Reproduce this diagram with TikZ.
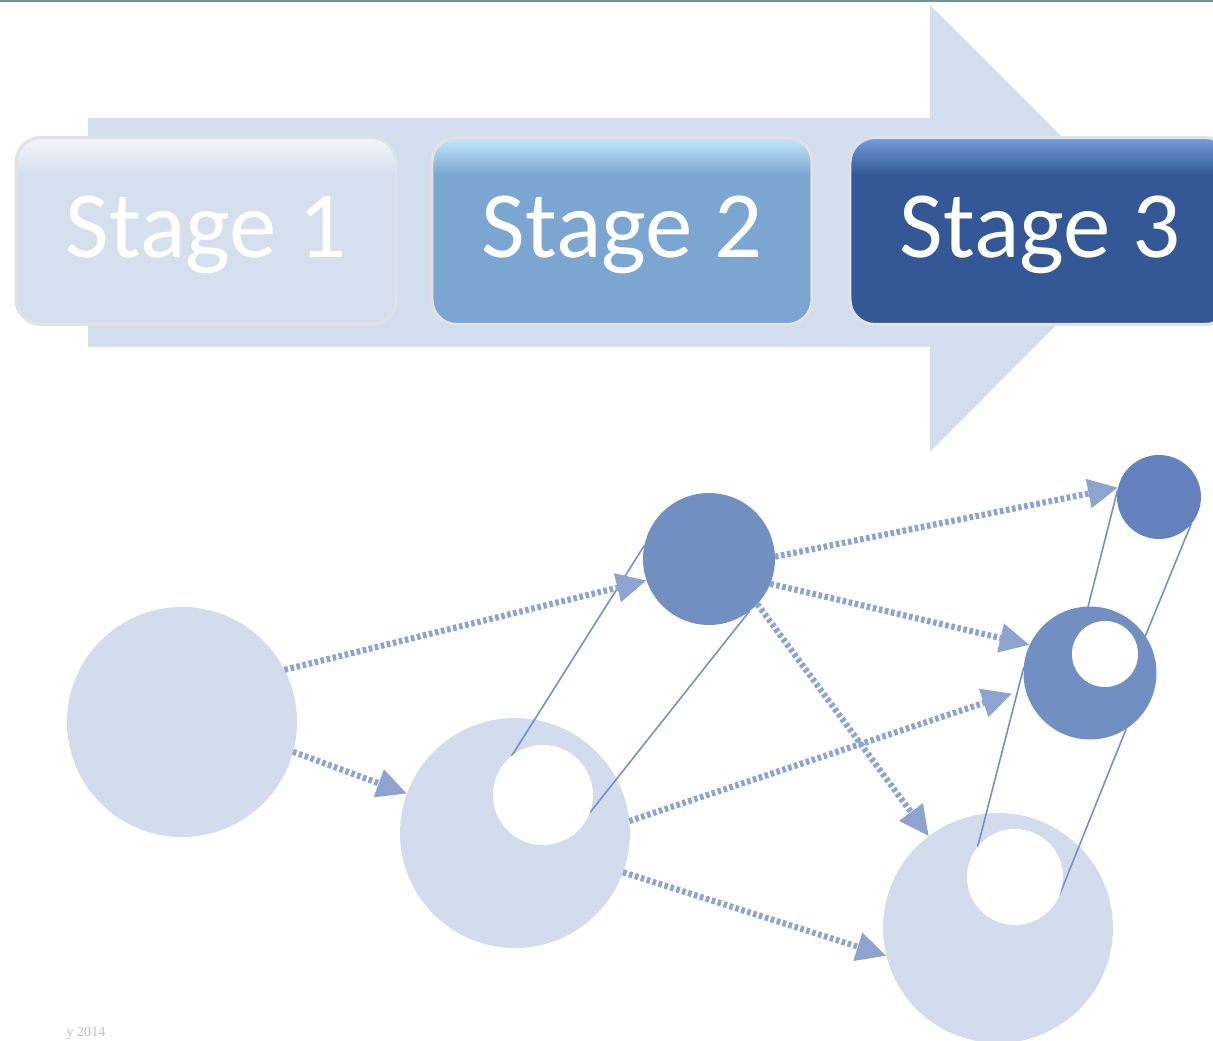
\documentclass[tikz,border=0pt]{standalone}
\usepackage{fontspec}
\setmainfont{Carlito}
\newfontfamily\notefont{Liberation Serif}
\usetikzlibrary{arrows.meta,positioning}

\definecolor{toplinecol}{HTML}{6E9494}
\definecolor{arrowcol}{HTML}{D3DEEE}
\definecolor{sone}{HTML}{D5DFEE}
\definecolor{sonetop}{HTML}{F2F6FB}
\definecolor{stwo}{HTML}{7BA6D2}
\definecolor{stwotop}{HTML}{C4EAFA}
\definecolor{sthree}{HTML}{345896}
\definecolor{sthreetop}{HTML}{739EE0}
\definecolor{boxline}{HTML}{E2E2E2}
\definecolor{lightcirc}{HTML}{D3DCEC}
\definecolor{darkcirc}{HTML}{728FC2}
\definecolor{smallcirc}{HTML}{6682BE}
\definecolor{tiecol}{HTML}{7590C8}
\definecolor{flowcol}{HTML}{8EA4D0}

\pgfdeclareverticalshading{stageone}{100bp}{color(0bp)=(sone); color(25bp)=(sone); color(65bp)=(sone); color(75bp)=(sonetop); color(100bp)=(sonetop)}
\pgfdeclareverticalshading{stagetwo}{100bp}{color(0bp)=(stwo); color(25bp)=(stwo); color(65bp)=(stwo); color(75bp)=(stwotop); color(100bp)=(stwotop)}
\pgfdeclareverticalshading{stagethree}{100bp}{color(0bp)=(sthree); color(25bp)=(sthree); color(65bp)=(sthree); color(75bp)=(sthreetop); color(100bp)=(sthreetop)}

\pgfdeclarelayer{bg}
\pgfdeclarelayer{mid}
\pgfsetlayers{bg,mid,main}

\begin{document}
\begin{tikzpicture}[x=0.1mm,y=-0.1mm,
		stagebox/.style={shape=rectangle, rounded corners=2.5mm, minimum width=38mm, minimum height=18.7mm, inner sep=0pt, text height=6.3mm, text depth=1mm, draw=boxline, line width=0.3mm, shade, shading=#1, text=white, font=\fontsize{27}{30}\selectfont},
		disc/.style={circle, inner sep=0pt, outer sep=0pt, minimum size=#1, fill=lightcirc},
		hole/.style={circle, inner sep=0pt, outer sep=0pt, minimum size=#1, fill=white},
		dark/.style={circle, inner sep=0pt, outer sep=0pt, minimum size=#1, fill=darkcirc},
		tie/.style={draw=tiecol, line width=0.16mm},
		flow/.style={draw=flowcol, line width=0.62mm, dash pattern=on 0.36mm off 0.26mm, -{Triangle[length=3mm,width=2.8mm]}}]
		\useasboundingbox (0,0) rectangle (1213,1041);
		\draw[toplinecol, line width=0.2mm] (0,1) -- (1213,1);
		\fill[arrowcol] (88,118) -- (930,118) -- (930,5) -- (1153,228) -- (930,452) -- (930,347) -- (88,347) -- cycle;
		\node[stagebox=stageone] (st1) at (206,231) {Stage 1};
		\node[stagebox=stagetwo, right=3.3mm of st1] (st2) {Stage 2};
		\node[stagebox=stagethree, right=3.5mm of st2] (st3) {Stage 3};
		\begin{pgfonlayer}{bg}
		\node[disc=23mm] (A) at (182,722) {};
		\node[disc=23mm] (B) at (515,833) {};
		\node[disc=23mm] (F) at (998,928) {};
		\end{pgfonlayer}
		\node[hole=10mm] (Bh) at (543,795) {};
		\node[hole=9.6mm] (Fh) at (1015,877) {};
		\node[dark=13.2mm] (C) at (709,559) {};
		\node[dark=8.4mm, fill=smallcirc] (D) at (1159,497) {};
		\node[dark=13.3mm] (E) at (1090,673) {};
		\node[hole=6.6mm] (Eh) at (1105,654) {};
		\begin{pgfonlayer}{mid}
		\draw[tie] (Bh.129) -- (C.168);
		\draw[tie] (Bh.339) -- (C.308);
		\draw[tie] (D.170) -- (Eh.134);
		\draw[tie] (D.320) -- (Eh.0);
		\draw[tie] (E.175) -- (Fh.141);
		\draw[tie] (E.303) -- (Fh.338);
		\end{pgfonlayer}
		\draw[flow] (A.27) -- (C.199);
		\draw[flow] (A.345) -- (B.160);
		\draw[flow] (C.2) -- (D.167);
		\draw[flow] (C.338) -- (E.155);
		\draw[flow] (C.317) -- (F.127);
		\draw[flow, shorten >=1.4mm] (B.6) -- (E.194);
		\draw[flow] (B.340) -- (F.194);
		\node[text=black!25, font=\notefont\fontsize{4}{5}\selectfont] (yr) at (86,1033) {y 2014};
\end{tikzpicture}
\end{document}
